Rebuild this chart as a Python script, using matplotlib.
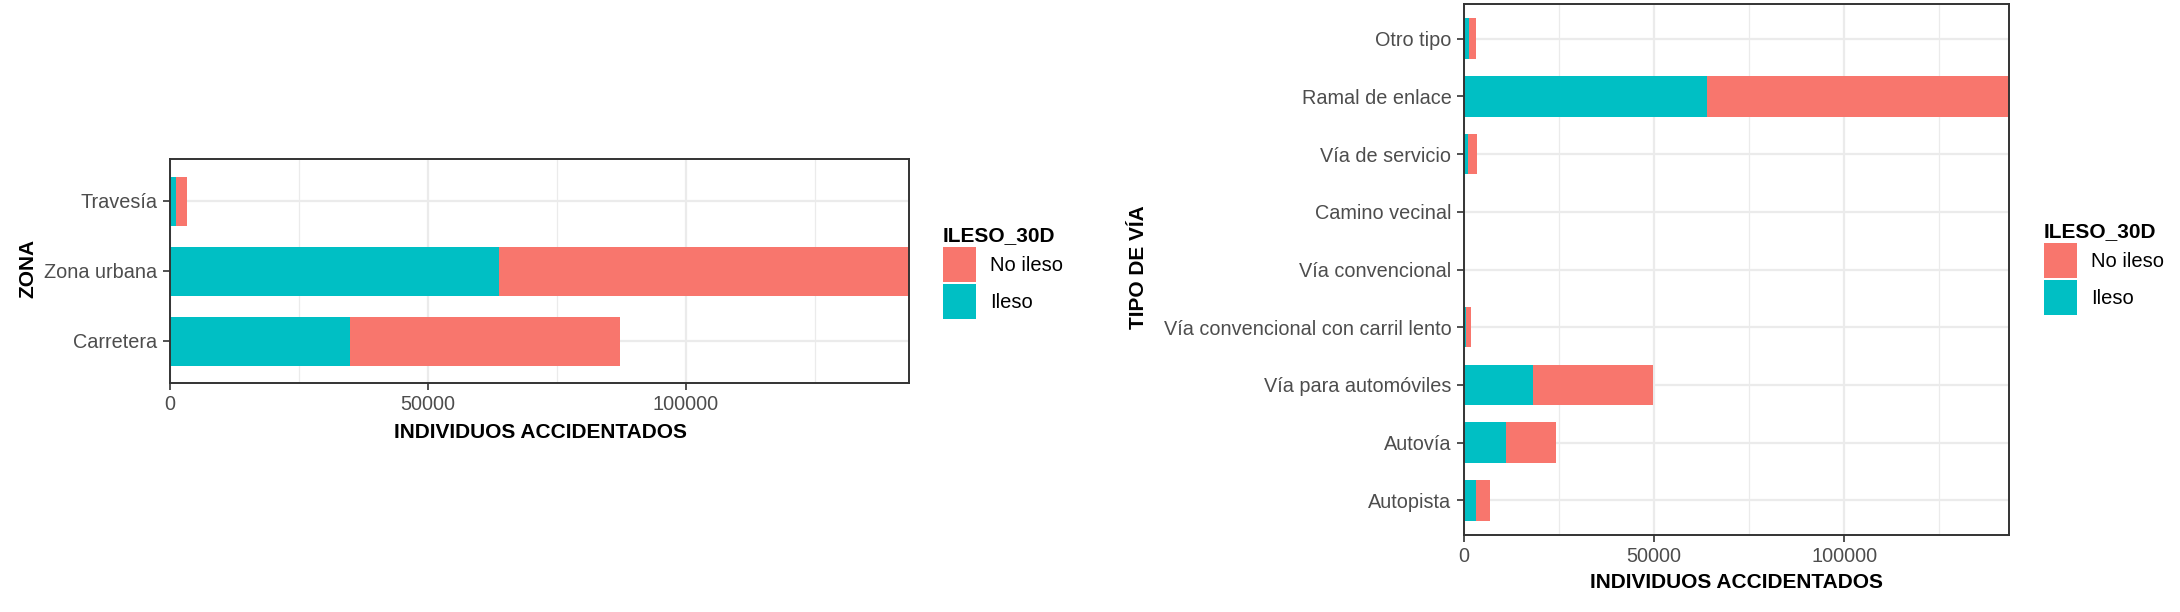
import matplotlib.pyplot as plt
import numpy as np

plt.rcParams['font.family'] = ['Liberation Sans', 'DejaVu Sans']

# panel 1: ZONA
zona = ["Carretera", "Zona urbana", "Travesía"]
zona_ileso = [34900, 63800, 1250]
zona_no_ileso = [52350, 79450, 1950]

# panel 2: TIPO DE VIA
via = ["Autopista", "Autovía", "Vía para automóviles",
       "Vía convencional con carril lento", "Vía convencional",
       "Camino vecinal", "Vía de servicio", "Ramal de enlace", "Otro tipo"]
via_ileso = [3100, 11050, 18200, 600, 0, 0, 1100, 63800, 1400]
via_no_ileso = [3730, 13050, 31450, 1300, 0, 0, 2400, 79500, 1700]

legend_title = "ILESO_30D"
legend_labels = ["No ileso", "Ileso"]
xticks = [0, 50000, 100000]
xminor = [25000, 75000, 125000]

RED = "#F8766D"
TEAL = "#00BFC4"
W, H = 2180, 612


def box(x0, y0, x1, y1):
    # pixel box (top-left origin) -> figure fraction
    return [x0 / W, 1 - y1 / H, (x1 - x0) / W, (y1 - y0) / H]


def draw_panel(ax, cats, ileso, no_ileso):
    pos = np.arange(len(cats))
    b1 = ax.barh(pos, ileso, height=0.7, color=TEAL, zorder=3)
    b2 = ax.barh(pos, no_ileso, left=ileso, height=0.7, color=RED, zorder=3)
    total = np.array(ileso) + np.array(no_ileso)
    ax.set_xlim(0, total.max())
    ax.set_ylim(-0.6, len(cats) - 0.4)
    ax.set_yticks(pos)
    ax.set_yticklabels(cats)
    ax.set_xticks(xticks)
    ax.set_xticklabels([str(t) for t in xticks])
    ax.set_xticks(xminor, minor=True)
    ax.grid(True, which="major", color="#EBEBEB", lw=1.6, zorder=0)
    ax.grid(True, which="minor", axis="x", color="#EBEBEB", lw=0.9, zorder=0)
    ax.tick_params(which="major", length=5, width=1.2, color="#333333",
                   labelsize=14.3, labelcolor="#4D4D4D", pad=4)
    ax.tick_params(which="minor", length=0)
    for s in ax.spines.values():
        s.set_color("#333333")
        s.set_linewidth(1.4)
        s.set_zorder(5)
    ax.set_axisbelow(True)
    return b2, b1


fig = plt.figure(figsize=(21.8, 6.12), dpi=100)

ax1 = fig.add_axes(box(170, 159, 909, 383))
h1 = draw_panel(ax1, zona, zona_ileso, zona_no_ileso)
ax2 = fig.add_axes(box(1464, 4, 2009, 535))
h2 = draw_panel(ax2, via, via_ileso, via_no_ileso)

# axis titles
fig.text(540 / W, 1 - 433 / H, "INDIVIDUOS ACCIDENTADOS", ha="center", va="center",
         fontsize=15, fontweight="bold")
fig.text(1736 / W, 1 - 582 / H, "INDIVIDUOS ACCIDENTADOS", ha="center", va="center",
         fontsize=15, fontweight="bold")
fig.text(28 / W, 1 - 268 / H, "ZONA", ha="center", va="center", rotation=90,
         fontsize=15, fontweight="bold")
fig.text(1139 / W, 1 - 267 / H, "TIPO DE VÍA", ha="center", va="center", rotation=90,
         fontsize=15, fontweight="bold")

# legends
for handles, x0, y0 in [(h1, 943, 226), (h2, 2044, 222)]:
    leg = fig.legend(handles, legend_labels, title=legend_title,
                     loc="upper left", bbox_to_anchor=(x0 / W, 1 - y0 / H),
                     frameon=False, fontsize=14.5, handlelength=1.65, handleheight=2.3,
                     labelspacing=0.1, handletextpad=0.7, borderpad=0,
                     borderaxespad=0, alignment="left",
                     title_fontproperties={"weight": "bold", "size": 15})

fig.savefig("out.png", dpi=100)
